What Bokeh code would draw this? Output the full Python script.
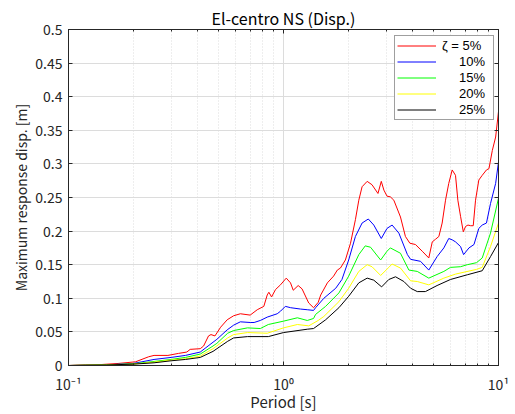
from bokeh.plotting import figure
from bokeh.models import (Range1d, FixedTicker, LinearAxis, LogAxis, Legend, LegendItem)
from bokeh.embed import file_html
from bokeh.resources import INLINE

# ---- data ----
period_5 = [0.1, 0.12, 0.143, 0.17, 0.205, 0.236, 0.25, 0.29, 0.325, 0.355, 0.368, 0.41, 0.425,
            0.448, 0.46, 0.48, 0.51, 0.547, 0.586, 0.63, 0.70, 0.755, 0.81, 0.84, 0.855, 0.88,
            0.918, 0.968, 1.03, 1.078, 1.11, 1.17, 1.22, 1.31, 1.38, 1.45, 1.49, 1.60, 1.71,
            1.78, 1.84, 1.94, 2.05, 2.16, 2.24, 2.32, 2.45, 2.58, 2.75, 2.85, 2.93, 3.03, 3.14,
            3.26, 3.50, 3.69, 3.87, 4.11, 4.42, 4.74, 4.92, 5.10, 5.28, 5.47, 5.67, 5.87, 6.09,
            6.31, 6.47, 6.66, 6.86, 7.03, 7.21, 7.42, 7.63, 7.82, 8.10, 8.40, 8.79, 9.03, 9.36,
            9.70, 10.0]
disp_5 = [0.0, 0.001, 0.0015, 0.003, 0.0055, 0.013, 0.015, 0.015, 0.018, 0.020, 0.024, 0.025, 0.029,
          0.044, 0.046, 0.044, 0.057, 0.068, 0.074, 0.077, 0.075, 0.083, 0.088, 0.105, 0.109, 0.102,
          0.113, 0.120, 0.130, 0.123, 0.112, 0.119, 0.114, 0.093, 0.086, 0.094, 0.105, 0.123, 0.133,
          0.142, 0.145, 0.157, 0.182, 0.217, 0.246, 0.266, 0.274, 0.269, 0.256, 0.274, 0.261, 0.252, 0.251,
          0.246, 0.221, 0.192, 0.182, 0.180, 0.170, 0.160, 0.184, 0.188, 0.192, 0.212, 0.246, 0.271, 0.291,
          0.283, 0.246, 0.222, 0.199, 0.207, 0.209, 0.208, 0.208, 0.246, 0.276, 0.283, 0.291, 0.293, 0.320,
          0.340, 0.378]

period_10 = [0.1, 0.15, 0.2, 0.25, 0.3, 0.35, 0.41, 0.45, 0.49, 0.547, 0.586, 0.63, 0.70, 0.73, 0.78,
             0.84, 0.935, 0.97, 1.02, 1.08, 1.20, 1.29, 1.38, 1.41, 1.54, 1.75, 1.87, 2.01, 2.16, 2.32,
             2.48, 2.63, 2.85, 3.03, 3.20, 3.44, 3.77, 3.90, 4.34, 4.74, 5.18, 5.57, 5.87, 6.09, 6.31,
             6.66, 6.88, 7.29, 7.69, 8.10, 8.40, 8.79, 9.18, 9.70, 10.0]
disp_10 = [0.0, 0.001, 0.003, 0.009, 0.012, 0.015, 0.020, 0.030, 0.039, 0.053, 0.060, 0.065, 0.064, 0.064, 0.067,
           0.072, 0.077, 0.081, 0.088, 0.086, 0.084, 0.083, 0.082, 0.086, 0.100, 0.115, 0.128, 0.157, 0.192, 0.212,
           0.218, 0.209, 0.189, 0.204, 0.209, 0.197, 0.165, 0.158, 0.155, 0.142, 0.162, 0.175, 0.189, 0.187, 0.184,
           0.177, 0.165, 0.175, 0.180, 0.204, 0.209, 0.212, 0.241, 0.271, 0.303]

period_15 = [0.1, 0.15, 0.2, 0.25, 0.3, 0.35, 0.41, 0.47, 0.49, 0.55, 0.586, 0.68, 0.78, 0.85, 1.0, 1.16,
             1.29, 1.38, 1.41, 1.57, 1.81, 2.01, 2.24, 2.40, 2.54, 2.83, 3.03, 3.14, 3.50, 3.83, 4.19,
             4.74, 5.57, 5.98, 6.66, 7.16, 7.90, 8.40, 9.18, 10.0]
disp_15 = [0.0, 0.001, 0.0025, 0.006, 0.009, 0.012, 0.017, 0.029, 0.033, 0.048, 0.052, 0.056, 0.055, 0.061, 0.066, 0.071,
           0.067, 0.070, 0.076, 0.088, 0.108, 0.133, 0.165, 0.178, 0.176, 0.157, 0.170, 0.175, 0.167, 0.142, 0.140,
           0.130, 0.140, 0.146, 0.147, 0.150, 0.153, 0.160, 0.197, 0.249]

period_20 = [0.1, 0.15, 0.2, 0.25, 0.3, 0.35, 0.41, 0.47, 0.55, 0.586, 0.68, 0.84, 1.0, 1.16, 1.31, 1.45,
             1.54, 1.81, 2.01, 2.24, 2.45, 2.58, 2.83, 3.09, 3.20, 3.50, 3.90, 4.19, 4.74, 5.57, 6.31,
             7.90, 8.40, 9.18, 10.0]
disp_20 = [0.0, 0.001, 0.002, 0.005, 0.008, 0.010, 0.014, 0.025, 0.041, 0.046, 0.049, 0.048, 0.056, 0.061, 0.059, 0.067,
           0.073, 0.095, 0.115, 0.140, 0.150, 0.147, 0.134, 0.146, 0.151, 0.145, 0.126, 0.125, 0.120, 0.130, 0.136,
           0.143, 0.146, 0.177, 0.212]

period_25 = [0.1, 0.15, 0.2, 0.25, 0.3, 0.35, 0.41, 0.47, 0.55, 0.586, 0.68, 0.85, 1.0, 1.29, 1.38, 1.57,
             1.81, 2.01, 2.24, 2.45, 2.63, 2.86, 3.09, 3.32, 3.63, 3.90, 4.19, 4.57, 5.18, 5.98, 7.16,
             8.40, 9.18, 10.0]
disp_25 = [0.0, 0.0008, 0.002, 0.004, 0.007, 0.009, 0.012, 0.021, 0.036, 0.041, 0.043, 0.043, 0.049, 0.054, 0.055, 0.068,
           0.086, 0.103, 0.123, 0.130, 0.127, 0.117, 0.128, 0.132, 0.125, 0.115, 0.110, 0.110, 0.119, 0.128, 0.135,
           0.141, 0.162, 0.183]

series_labels = ["ζ = 5%", "\u2007\u2007\u200910%", "\u2007\u2007\u200915%", "\u2007\u2007\u200920%", "\u2007\u2007\u200925%"]
series_colors = ["#ff0000", "#0000ff", "#00ff00", "#ffff00", "#000000"]

y_ticks = [0.0, 0.05, 0.1, 0.15, 0.2, 0.25, 0.3, 0.35, 0.4, 0.45, 0.5]
y_tick_labels = ["0", "0.05", "0.1", "0.15", "0.2", "0.25", "0.3", "0.35", "0.4", "0.45", "0.5"]
x_ticks = [0.1, 1.0, 10.0]
x_tick_labels = ["10\u207b\u00b9", "10\u2070", "10\u00b9"]
x_minor = [0.2, 0.3, 0.4, 0.5, 0.6, 0.7, 0.8, 0.9, 2, 3, 4, 5, 6, 7, 8, 9]

FONT = "Noto Sans CJK JP"
LFONT = "Liberation Sans"
AX = "#262626"

p = figure(width=515, height=414, x_axis_type="log", output_backend="svg", toolbar_location=None,
           x_range=Range1d(0.1, 10), y_range=Range1d(0, 0.5),
           min_border_left=68, min_border_right=17, min_border_top=29, min_border_bottom=48,
           background_fill_color="white", border_fill_color="white")

p.title.text = "El-centro NS (Disp.)"
p.title.align = "center"
p.title.text_font = FONT
p.title.text_font_size = "16px"
p.title.text_font_style = "normal"
p.title.text_color = "#000000"
p.title.standoff = 0

xticker = FixedTicker(ticks=x_ticks, minor_ticks=x_minor)
yticker = FixedTicker(ticks=y_ticks, minor_ticks=[])

xa = p.xaxis[0]
xa.ticker = xticker
xa.major_label_overrides = {v: s for v, s in zip(x_ticks, x_tick_labels)}
ya = p.yaxis[0]
ya.ticker = yticker
ya.major_label_overrides = {v: s for v, s in zip(y_ticks, y_tick_labels)}

xa.axis_label = "Period [s]"
ya.axis_label = "Maximum response disp. [m]"

for ax in (xa, ya):
    ax.axis_line_color = AX
    ax.major_tick_line_color = AX
    ax.minor_tick_line_color = AX
    ax.major_tick_in = 4
    ax.major_tick_out = 0
    ax.minor_tick_in = 2
    ax.minor_tick_out = 0
    ax.major_label_text_font = FONT
    ax.major_label_text_font_size = "14px"
    ax.major_label_text_color = AX
    ax.axis_label_text_font = FONT
    ax.axis_label_text_font_style = "normal"
    ax.axis_label_text_color = AX
xa.axis_label_text_font_size = "15px"
ya.axis_label_text_font_size = "14px"
ya.minor_tick_in = 0
xa.major_label_standoff = 8
xa.axis_label_standoff = -6
ya.major_label_standoff = 6
ya.axis_label_standoff = 1

# box ticks on top and right (labels invisible)
top = LogAxis(ticker=FixedTicker(ticks=x_ticks, minor_ticks=x_minor))
right = LinearAxis(ticker=FixedTicker(ticks=y_ticks, minor_ticks=[]))
for ax in (top, right):
    ax.axis_line_color = AX
    ax.major_tick_line_color = AX
    ax.minor_tick_line_color = AX
    ax.major_tick_in = 4
    ax.major_tick_out = 0
    ax.minor_tick_in = 2
    ax.minor_tick_out = 0
    ax.major_label_text_font_size = "1px"
    ax.major_label_text_alpha = 0
    ax.major_label_standoff = 0
right.minor_tick_in = 0
p.add_layout(top, "above")
p.add_layout(right, "right")

p.outline_line_color = AX

p.xgrid.grid_line_color = "#dcdcdc"
p.xgrid.minor_grid_line_color = "#dcdcdc"
p.xgrid.minor_grid_line_dash = "1 2"
p.ygrid.grid_line_color = "#dcdcdc"

periods = [period_5, period_10, period_15, period_20, period_25]
disps = [disp_5, disp_10, disp_15, disp_20, disp_25]
items = []
for T, d, c, lab in zip(periods, disps, series_colors, series_labels):
    r = p.line(T, d, line_color=c, line_width=1)
    items.append(LegendItem(label=lab, renderers=[r]))

legend = Legend(items=items, location=(326, 245))
legend.label_text_font = LFONT
legend.label_text_font_size = "13px"
legend.label_text_color = "#000000"
legend.glyph_width = 39
legend.glyph_height = 15
legend.label_height = 15
legend.label_width = 49
legend.label_standoff = 6
legend.spacing = 1
legend.padding = 2
legend.margin = 0
legend.border_line_color = "#404040"
legend.border_line_width = 1
legend.background_fill_color = "white"
legend.background_fill_alpha = 1
p.add_layout(legend, "center")

open("out.html", "w").write(file_html(p, INLINE))
